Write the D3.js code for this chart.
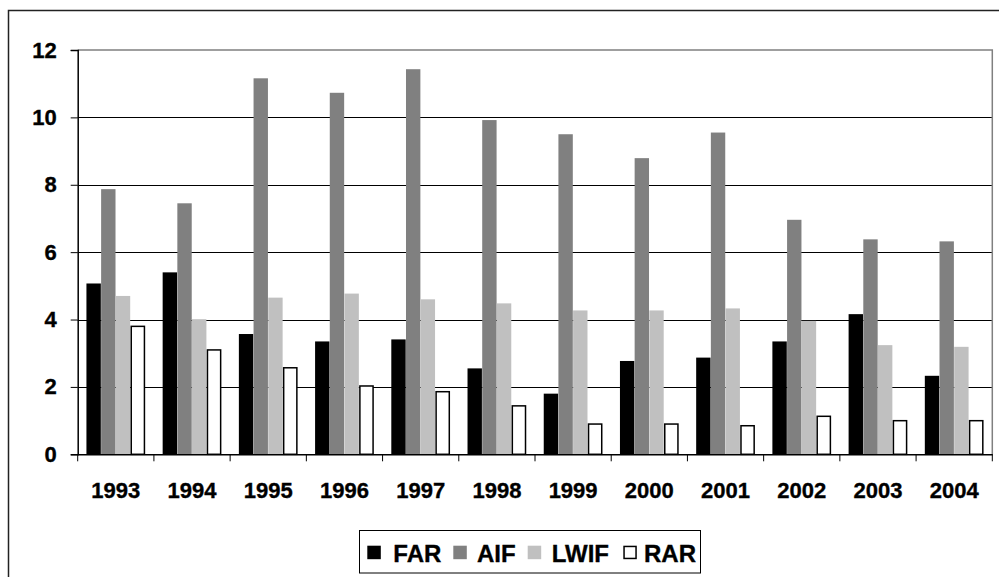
<!DOCTYPE html>
<html>
<head>
<meta charset="utf-8">
<script src="https://cdn.jsdelivr.net/npm/d3@7"></script>
<style>
  html, body { margin: 0; padding: 0; background: #fff; }
  svg { display: block; }
  text { font-family: "Liberation Sans", Arial, sans-serif; font-weight: bold; fill: #000; stroke: #000; stroke-width: 0.35px; }
</style>
</head>
<body>
<svg id="chart" width="999" height="577"></svg>
<script>
const categories = ["1993","1994","1995","1996","1997","1998","1999","2000","2001","2002","2003","2004"];
const seriesNames = ["FAR","AIF","LWIF","RAR"];
const FAR  = [5.07, 5.40, 3.57, 3.35, 3.41, 2.55, 1.80, 2.77, 2.87, 3.35, 4.16, 2.33];
const AIF  = [7.87, 7.45, 11.16, 10.73, 11.43, 9.92, 9.50, 8.79, 9.55, 6.96, 6.38, 6.32];
const LWIF = [4.70, 4.01, 4.65, 4.77, 4.60, 4.48, 4.27, 4.27, 4.33, 3.96, 3.24, 3.19];
const RAR  = [3.82, 3.12, 2.59, 2.05, 1.88, 1.46, 0.92, 0.92, 0.87, 1.15, 1.02, 1.02];
const yTicks = [0, 2, 4, 6, 8, 10, 12];

const seriesValues = [FAR, AIF, LWIF, RAR];
const fills = ["#000000", "#808080", "#c0c0c0", "#ffffff"];
const strokes = ["none", "none", "none", "#000000"];

const svg = d3.select("#chart");
const W = 999, H = 577;

// outer chart border
svg.append("rect")
  .attr("x", 8.5).attr("y", 10.5)
  .attr("width", W + 20).attr("height", H + 20)
  .attr("fill", "none").attr("stroke", "#222").attr("stroke-width", 1.5);

const plot = { left: 77.7, right: 992.3, top: 50, bottom: 454.3 };

const x = d3.scaleBand().domain(categories).range([plot.left, plot.right]).paddingInner(0).paddingOuter(0);
const xi = d3.scaleBand().domain(seriesNames).range([0, x.bandwidth()]).paddingInner(0).paddingOuter(0.595);
const y = d3.scaleLinear().domain([0, 12]).range([plot.bottom, plot.top]);

// gridlines
svg.append("g").selectAll("line").data(yTicks.filter(d => d > 0 && d < 12)).join("line")
  .attr("x1", plot.left).attr("x2", plot.right)
  .attr("y1", d => Math.round(y(d)) + 0.5).attr("y2", d => Math.round(y(d)) + 0.5)
  .attr("stroke", "#000").attr("stroke-width", 1);

// plot area border (top and right, gray)
svg.append("path")
  .attr("d", `M${plot.left},${y(12)}H${plot.right}V${plot.bottom}`)
  .attr("fill", "none").attr("stroke", "#808080").attr("stroke-width", 1.5);

// bars
const groups = svg.append("g").selectAll("g").data(categories).join("g")
  .attr("transform", d => `translate(${x(d)},0)`);
groups.selectAll("rect")
  .data((d, i) => seriesNames.map((s, k) => ({ s, k, v: seriesValues[k][i] })))
  .join("rect")
  .attr("x", d => xi(d.s) + (d.k === 3 ? 0.75 : 0))
  .attr("width", d => xi.bandwidth() - (d.k === 3 ? 1.5 : 0.3))
  .attr("y", d => y(d.v) + (d.k === 3 ? 0.75 : 0))
  .attr("height", d => plot.bottom - y(d.v) - (d.k === 3 ? 0.75 : 0))
  .attr("fill", d => fills[d.k])
  .attr("stroke", d => strokes[d.k])
  .attr("stroke-width", 1.5);

// y axis
const yAxis = svg.append("g").attr("transform", `translate(${plot.left},0)`)
  .call(d3.axisLeft(y).tickValues(yTicks).tickSize(7).tickPadding(14).tickFormat(d3.format("d")));
yAxis.select(".domain").attr("stroke", "#000").attr("stroke-width", 1.5);
yAxis.selectAll(".tick line").attr("stroke", "#000");
yAxis.selectAll(".tick text").style("font-size", "22px").style("font-family", "Liberation Sans, Arial, sans-serif").style("font-weight", "bold");

// x axis: ticks at category boundaries
const xAxis = svg.append("g").attr("transform", `translate(0,${plot.bottom})`)
  .call(d3.axisBottom(x).tickSize(0).tickPadding(28));
xAxis.select(".domain").attr("stroke", "#000").attr("stroke-width", 1.5);
xAxis.selectAll(".tick text").style("font-size", "22px").style("font-family", "Liberation Sans, Arial, sans-serif").style("font-weight", "bold");
const boundaries = categories.map(c => x(c)).concat([x(categories[categories.length - 1]) + x.bandwidth()]);
xAxis.append("g").selectAll("line").data(boundaries).join("line")
  .attr("x1", d => d).attr("x2", d => d).attr("y1", 0).attr("y2", 7)
  .attr("stroke", "#000").attr("stroke-width", 1);

// legend
const legend = svg.append("g");
legend.append("rect")
  .attr("x", 359.5).attr("y", 530.5).attr("width", 341).attr("height", 42.5)
  .attr("fill", "#fff").attr("stroke", "#000").attr("stroke-width", 1);
const legendX = [367.3, 453.3, 527.7, 623.3];
const legendTextX = [393.3, 477, 551.7, 644];
seriesNames.forEach((s, k) => {
  legend.append("rect")
    .attr("x", legendX[k] + (k === 3 ? 0.75 : 0)).attr("y", 545.7 + (k === 3 ? 0.75 : 0))
    .attr("width", 13.5 - (k === 3 ? 1.5 : 0)).attr("height", 13.5 - (k === 3 ? 1.5 : 0))
    .attr("fill", fills[k]).attr("stroke", strokes[k]).attr("stroke-width", 1.5);
  legend.append("text")
    .attr("x", legendTextX[k]).attr("y", 561.7)
    .style("font-size", "24px")
    .text(s);
});
</script>
</body>
</html>
